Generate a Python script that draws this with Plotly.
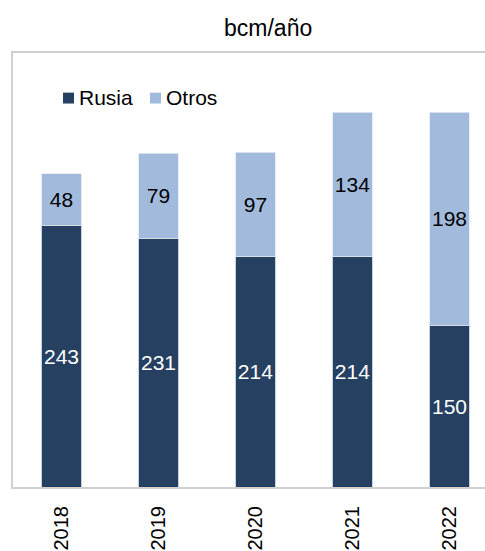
import plotly.graph_objects as go

# Gas supply by origin, bcm per year
years = ["2018", "2019", "2020", "2021", "2022"]
rusia = [243, 231, 214, 214, 150]
otros = [48, 79, 97, 134, 198]
series_names = ["Rusia", "Otros"]

COLOR_RUSIA = "#264061"
COLOR_OTROS = "#a2bbdc"
FONT = "Liberation Sans, Arial, sans-serif"

# plot area in pixels: left 13, right 485, top 53, bottom 491
PL, PR, PT, PB = 13, 485, 53, 491


def px_x(p):
    return (p - PL) / (PR - PL)


def px_y(q):
    return (PB - q) / (PB - PT)


fig = go.Figure()
fig.add_trace(go.Bar(
    x=years, y=rusia, name=series_names[0],
    marker=dict(color=COLOR_RUSIA, line=dict(color="#b9c7da", width=0.8)),
    width=0.41,
    text=rusia, texttemplate="%{text}",
    textposition="inside", insidetextanchor="middle", constraintext="none",
    textangle=0,
    textfont=dict(color="white", size=21, family=FONT),
))
fig.add_trace(go.Bar(
    x=years, y=otros, name=series_names[1],
    marker=dict(color=COLOR_OTROS, line=dict(color="#e3eaf4", width=0.8)),
    width=0.41,
    text=otros, texttemplate="%{text}",
    textposition="inside", insidetextanchor="middle", constraintext="none",
    textangle=0,
    textfont=dict(color="black", size=21, family=FONT),
))

# legend: small square swatch followed closely by the series name
legend_items = [(series_names[0], COLOR_RUSIA, 63), (series_names[1], COLOR_OTROS, 150)]
shapes = []
annotations = []
for name, color, x0 in legend_items:
    shapes.append(dict(
        type="rect", xref="paper", yref="paper",
        x0=px_x(x0), x1=px_x(x0 + 11), y0=px_y(104), y1=px_y(93),
        fillcolor=color, line=dict(width=0),
    ))
    annotations.append(dict(
        text=name, xref="paper", yref="paper",
        x=px_x(x0 + 14), y=px_y(98), xanchor="left", yanchor="middle",
        showarrow=False, font=dict(size=21, family=FONT, color="black"),
    ))

annotations.append(dict(
    text="bcm/año", xref="paper", yref="paper",
    x=px_x(268), y=1.0, yshift=25, xanchor="center", yanchor="middle",
    showarrow=False, font=dict(size=23, family=FONT, color="black"),
))

fig.update_layout(
    barmode="stack",
    width=485, height=551,
    margin=dict(l=PL, r=0, t=PT, b=551 - PB),
    paper_bgcolor="white",
    plot_bgcolor="white",
    font=dict(family=FONT, size=20, color="black"),
    showlegend=False,
    shapes=shapes,
    annotations=annotations,
)

fig.update_xaxes(
    range=[-0.5, 4.366],
    showline=True, linecolor="#d0d0d0", linewidth=2, mirror=True,
    tickangle=-90, ticks="outside", ticklen=9, tickcolor="rgba(0,0,0,0)",
    tickfont=dict(size=20, family=FONT, color="black"),
    showgrid=False, zeroline=False,
)
fig.update_yaxes(
    range=[0, 403],
    showline=True, linecolor="#d0d0d0", linewidth=2,
    showticklabels=False, ticks="", showgrid=False, zeroline=False,
)

fig.write_html("out.html")
